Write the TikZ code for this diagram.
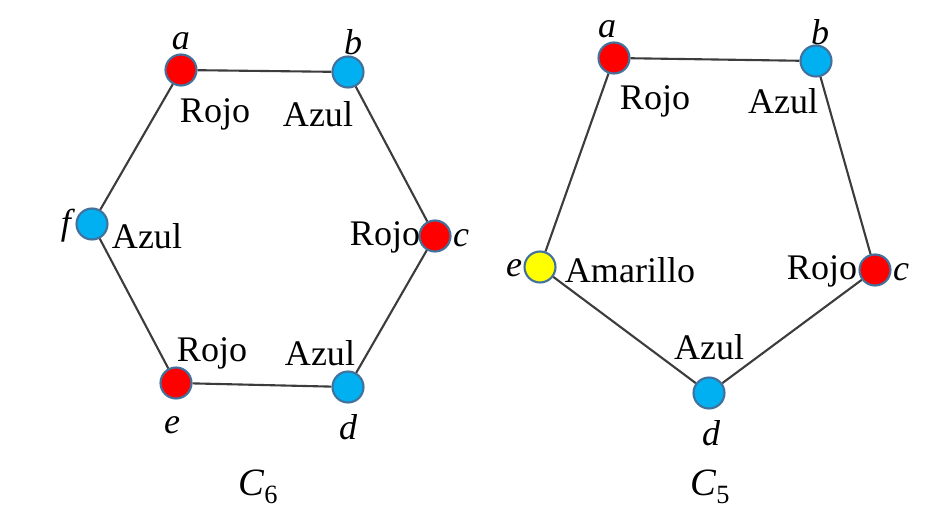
\documentclass[tikz,border=0pt]{standalone}
\usepackage{fontspec}
\setmainfont{Liberation Serif}
\usetikzlibrary{positioning}

\definecolor{vred}{HTML}{FF0000}
\definecolor{vblue}{HTML}{00B0F0}
\definecolor{vyellow}{HTML}{FFFF00}
\definecolor{vborder}{HTML}{41719C}
\definecolor{edgegray}{HTML}{3C3C3C}

\tikzset{
  vert/.style={circle, draw=vborder, line width=1.2pt, minimum size=0.62cm, inner sep=0pt},
  rojo/.style={vert, fill=vred},
  azul/.style={vert, fill=vblue},
  amarillo/.style={vert, fill=vyellow},
  edge/.style={draw=edgegray, line width=1.2pt},
  color label/.style={font=\fontsize{20.5}{24}\selectfont, inner sep=0pt},
  vname/.style={font=\fontsize{20.5}{24}\selectfont\itshape, inner sep=0pt},
}

\newcommand{\cyc}[1]{\textit{C}\raisebox{-0.45ex}{\fontsize{15}{17}\selectfont #1}}

\begin{document}
\begin{tikzpicture}[x=0.02cm, y=-0.02cm]
    \useasboundingbox (0,0) rectangle (935,517);

    % C6
    \node [rojo] (a6) at (181,70) {};
    \node [azul] (b6) at (348,72) {};
    \node [rojo] (c6) at (435,236) {};
    \node [azul] (d6) at (348,387) {};
    \node [rojo] (e6) at (176,383) {};
    \node [azul] (f6) at (92,224) {};
    \draw [edge] (a6) -- (b6) -- (c6) -- (d6) -- (e6) -- (f6) -- (a6);

    \node [vname] at (181,41) {a};
    \node [vname] at (353,42) {b};
    \node [vname] at (461,238) {c};
    \node [vname] at (348,427) {d};
    \node [vname] at (172,425) {e};
    \node [vname] at (66,226) {f};

    \node [color label] at (215,114) {Rojo};
    \node [color label] at (318,114) {Azul};
    \node [color label] at (385,237) {Rojo};
    \node [color label] at (147,236) {Azul};
    \node [color label] at (212,353) {Rojo};
    \node [color label] at (320,353) {Azul};
    \node [font=\fontsize{22}{26}\selectfont] (c6name) at (258,487) {\cyc{6}};

    % C5
    \node [rojo] (a5) at (614,58) {};
    \node [azul] (b5) at (816,61) {};
    \node [rojo] (c5) at (875,270) {};
    \node [azul] (d5) at (709,393) {};
    \node [amarillo] (e5) at (540,267) {};
    \draw [edge] (a5) -- (b5) -- (c5) -- (d5) -- (e5) -- (a5);

    \node [vname] at (607,29) {a};
    \node [vname] at (820,32) {b};
    \node [vname] at (901,272) {c};
    \node [vname] at (711,433) {d};
    \node [vname] at (514,268) {e};

    \node [color label] at (655,101) {Rojo};
    \node [color label] at (783,101) {Azul};
    \node [color label] at (630,270) {Amarillo};
    \node [color label] at (822,271) {Rojo};
    \node [color label] at (709,347) {Azul};
    \node [font=\fontsize{22}{26}\selectfont] (c5name) at (710,487) {\cyc{5}};
\end{tikzpicture}
\end{document}
